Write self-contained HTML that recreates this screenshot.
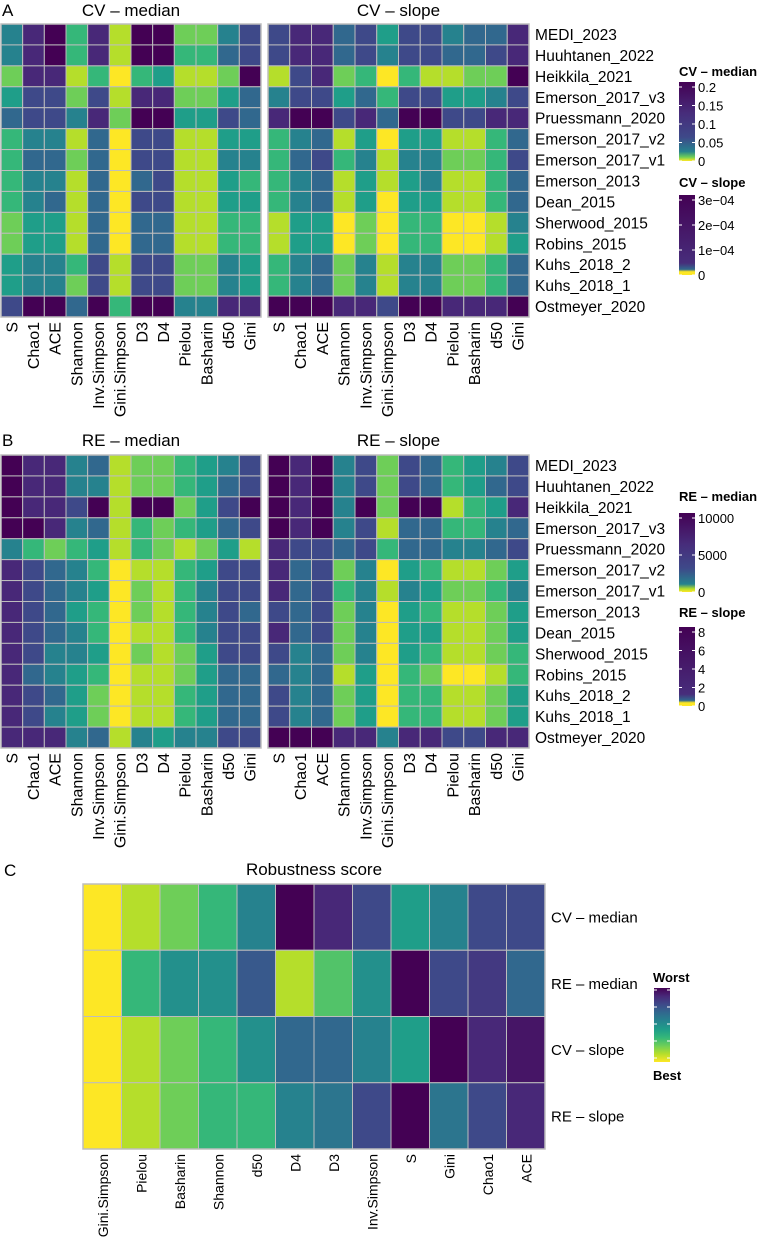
<!DOCTYPE html>
<html><head><meta charset="utf-8"><style>
html,body{margin:0;padding:0;background:#fff}
svg{display:block;font-family:"Liberation Sans",Arial,sans-serif}
</style></head><body>
<svg id="fig" width="760" height="1239" viewBox="0 0 760 1239" xmlns="http://www.w3.org/2000/svg">
<defs>
<linearGradient id="vir" x1="0" y1="1" x2="0" y2="0">
<stop offset="0" stop-color="#fde725"/><stop offset="0.11" stop-color="#b5de2b"/><stop offset="0.22" stop-color="#6ece58"/><stop offset="0.33" stop-color="#35b779"/><stop offset="0.44" stop-color="#1f9e89"/><stop offset="0.56" stop-color="#26828e"/><stop offset="0.67" stop-color="#31688e"/><stop offset="0.78" stop-color="#3e4989"/><stop offset="0.89" stop-color="#482878"/><stop offset="1" stop-color="#440154"/>
</linearGradient>
<linearGradient id="virA" x1="0" y1="1" x2="0" y2="0">
<stop offset="0" stop-color="#fde725"/><stop offset="0.05" stop-color="#6ece58"/><stop offset="0.12" stop-color="#26828e"/><stop offset="0.3" stop-color="#3e4989"/><stop offset="0.6" stop-color="#472d7b"/><stop offset="1" stop-color="#440154"/>
</linearGradient>
<linearGradient id="virB" x1="0" y1="1" x2="0" y2="0">
<stop offset="0" stop-color="#fde725"/><stop offset="0.04" stop-color="#fde725"/><stop offset="0.07" stop-color="#31688e"/><stop offset="0.15" stop-color="#472d7b"/><stop offset="1" stop-color="#440154"/>
</linearGradient>
<linearGradient id="virC" x1="0" y1="1" x2="0" y2="0">
<stop offset="0" stop-color="#fde725"/><stop offset="0.04" stop-color="#b5de2b"/><stop offset="0.1" stop-color="#26828e"/><stop offset="0.3" stop-color="#3e4989"/><stop offset="0.6" stop-color="#472d7b"/><stop offset="1" stop-color="#440154"/>
</linearGradient>
</defs>
</svg>
<script>
// Metrics (columns) and datasets (rows)
const metrics = ["S","Chao1","ACE","Shannon","Inv.Simpson","Gini.Simpson","D3","D4","Pielou","Basharin","d50","Gini"];
const datasets = ["MEDI_2023","Huuhtanen_2022","Heikkila_2021","Emerson_2017_v3","Pruessmann_2020","Emerson_2017_v2","Emerson_2017_v1","Emerson_2013","Dean_2015","Sherwood_2015","Robins_2015","Kuhs_2018_2","Kuhs_2018_1","Ostmeyer_2020"];
// Color-level values (9 = best/yellow, 0 = worst/purple)
const cvMedian = [
[4,1,0,6,1,8,0,0,7,7,4,2],[4,1,0,6,1,8,0,0,6,6,3,2],[7,1,1,8,6,9,6,5,8,8,7,0],[5,2,2,7,2,8,1,1,7,7,5,3],
[3,2,2,4,1,7,0,0,5,5,2,3],[6,4,4,8,3,9,2,2,8,8,5,5],[6,3,3,7,3,9,2,2,8,8,4,4],[6,4,4,8,3,9,3,2,8,8,5,6],
[6,4,3,8,3,9,2,2,8,8,5,5],[7,5,5,8,3,9,3,3,8,8,6,6],[7,5,5,8,3,9,3,3,8,8,6,6],[5,4,4,6,2,8,2,2,7,7,4,5],
[5,4,4,7,2,8,2,2,7,7,4,5],[2,0,0,3,0,6,0,0,4,4,1,1]];
const cvSlope = [
[2,1,1,3,2,5,2,2,4,3,3,1],[2,1,1,3,2,4,2,2,3,3,2,1],[8,2,1,7,6,9,6,8,8,7,7,0],[4,2,2,5,3,6,2,2,5,5,4,2],
[1,0,0,2,1,3,0,0,2,2,1,1],[6,4,3,8,5,9,5,5,8,8,6,3],[6,3,2,6,4,8,4,4,7,7,6,2],[6,4,3,8,5,8,5,4,8,8,6,3],
[6,4,3,8,5,9,5,5,8,8,6,3],[8,5,5,9,7,9,6,6,9,9,8,4],[8,5,5,9,7,9,6,6,9,9,8,5],[6,4,3,7,4,8,4,4,7,7,6,3],
[6,4,3,7,4,8,4,4,7,7,6,3],[0,0,0,1,1,2,0,0,1,1,1,0]];
const reMedian = [
[0,1,1,4,3,8,7,7,6,5,4,2],[0,1,1,4,4,8,7,7,6,5,3,2],[0,1,1,2,0,8,0,0,7,5,2,0],[0,0,1,4,3,8,6,7,6,5,3,2],
[4,6,7,6,5,8,6,7,8,7,5,8],[1,2,3,4,6,9,8,8,6,5,2,2],[1,2,3,4,5,9,7,8,6,4,2,2],[1,2,3,5,6,9,7,8,6,4,2,3],
[1,2,3,4,6,9,8,8,6,4,2,2],[1,2,4,4,5,9,7,8,7,5,2,2],[1,3,4,5,6,9,8,8,7,5,3,3],[1,2,3,5,7,9,8,8,6,5,3,3],
[1,2,4,5,7,9,8,8,6,5,3,3],[1,1,1,4,3,8,4,5,4,4,2,2]];
const reSlope = [
[0,1,0,4,2,7,2,3,6,5,4,2],[0,1,0,4,2,7,2,3,6,5,3,2],[0,1,0,4,0,7,0,0,8,6,5,1],[0,1,0,4,2,8,3,3,6,6,4,3],
[1,2,2,3,2,6,3,3,4,4,3,2],[1,3,2,7,4,9,5,6,8,8,7,5],[1,3,2,6,4,8,4,5,7,7,6,4],[2,3,2,7,4,9,5,6,8,8,7,5],
[1,3,2,7,4,9,5,5,8,8,7,5],[2,4,3,7,4,9,5,6,8,8,7,6],[3,4,3,8,5,9,6,7,9,9,8,6],[2,4,3,7,5,9,6,6,8,8,7,5],
[2,4,3,7,5,9,6,6,8,8,7,5],[0,0,0,1,1,4,1,1,2,2,1,1]];
const scoreMetrics = ["Gini.Simpson","Pielou","Basharin","Shannon","d50","D4","D3","Inv.Simpson","S","Gini","Chao1","ACE"];
const scoreRows = ["CV – median","RE – median","CV – slope","RE – slope"];
const scores = [
[9,8,7,6,4,0,1,2,5,4,2,2],
[9,6,4.5,4.5,2.5,8,6.5,4.5,0,2,1.5,3],
[9,8,7,6,4.5,3,3,4,5,0,1,0.5],
[9,8,7,6,6,4,3.5,2,0,3.5,2,1]];
const cvMedTicks = ["0.2","0.15","0.1","0.05","0"];
const cvSlopeTicks = ["3e−04","2e−04","1e−04","0"];
const reMedTicks = ["10000","5000","0"];
const reSlopeTicks = ["8","6","4","2","0"];

const NS="http://www.w3.org/2000/svg";
const svg=document.getElementById('fig');
const vir=["#440154","#482878","#3e4989","#31688e","#26828e","#1f9e89","#35b779","#6ece58","#b5de2b","#fde725"];
function hex(h){return [1,3,5].map(i=>parseInt(h.substr(i,2),16));}
function color(v){v=Math.max(0,Math.min(9,v));const i=Math.min(8,Math.floor(v)),f=v-i;const a=hex(vir[i]),b=hex(vir[i+1]);return "rgb("+a.map((c,k)=>Math.round(c+(b[k]-c)*f)).join(",")+")";}
function el(t,a,p){const e=document.createElementNS(NS,t);for(const k in a)e.setAttribute(k,a[k]);(p||svg).appendChild(e);return e;}
function txt(x,y,s,size,extra){const e=el('text',Object.assign({x:x,y:y,'font-size':size,fill:'#000'},extra||{}));e.textContent=s;return e;}

function heatmap(name,x0,y0,w,h,cols,rows,data,rowLabels,colLabels,title,titleY){
  const g=el('g',{});
  
  
  const cw=w/cols.length,rh=h/rows.length;
  const xs=j=>x0+j*cw, ys=i=>y0+i*rh;
  for(let i=0;i<rows.length;i++)for(let j=0;j<cols.length;j++){
    const r=el('rect',{x:xs(j),y:ys(i),width:cw,height:rh,fill:color(data[i][j]),stroke:'#bdbdbd','stroke-width':1},g);
    
    
  }
  el('rect',{x:x0,y:y0,width:w,height:h,fill:'none',stroke:'#bdbdbd','stroke-width':1.5},g);
  if(colLabels){for(let j=0;j<cols.length;j++){const cx=xs(j)+cw/2+5.5,ty=y0+h+5;
    const t=txt(cx,ty,cols[j],colLabels,{transform:'rotate(-90 '+cx+' '+ty+')','text-anchor':'end'});
    
    }}
  if(rowLabels){for(let i=0;i<rows.length;i++){const t=txt(x0+w+6,ys(i)+rh/2+5.5,rows[i],rowLabels.size);
    
    }}
  if(title){const t=txt(x0+w/2,titleY,title,17,{'text-anchor':'middle'});
    
    }
}
function legend(name,title,x,ty,y1,y2,ticks,grad){
  const g=el('g',{});
  
  
  const t=txt(x,ty,title,13,{'font-weight':'bold'});g.appendChild(t);
  el('rect',{x:x,y:y1,width:16,height:y2-y1,fill:'url(#'+grad+')'},g);
  ticks.forEach((s,k)=>{const y=y1+5+(y2-y1-5)*k/(ticks.length-1);
    el('line',{x1:x,x2:x+3,y1:y,y2:y,stroke:'#fff','stroke-width':1},g);
    el('line',{x1:x+13,x2:x+16,y1:y,y2:y,stroke:'#fff','stroke-width':1},g);
    const l=txt(x+19,y+5,s,13);g.appendChild(l);});
}
// Panel labels
[["A",2,16],["B",2,446],["C",4,876]].forEach(p=>{const t=txt(p[1],p[2],p[0],17);
  
  });

heatmap('heatmap-cv-median',1,24,260,293,metrics,datasets,cvMedian,null,16,'CV – median',16);
heatmap('heatmap-cv-slope',268,24,261,293,metrics,datasets,cvSlope,{size:15.5},16,'CV – slope',16);
heatmap('heatmap-re-median',1,455,260,293,metrics,datasets,reMedian,null,16,'RE – median',446);
heatmap('heatmap-re-slope',268,455,261,293,metrics,datasets,reSlope,{size:15.5},16,'RE – slope',446);
heatmap('heatmap-robustness',83,884,462,265,scoreMetrics,scoreRows,scores,{size:15},14,'Robustness score',875);

legend('legend-cv-median','CV – median',679,76,82,161,cvMedTicks,'virA');
legend('legend-cv-slope','CV – slope',679,187,195,275,cvSlopeTicks,'virB');
legend('legend-re-median','RE – median',679,501,513,592,reMedTicks,'virC');
legend('legend-re-slope','RE – slope',679,617,627,706,reSlopeTicks,'virB');
// robustness legend
(function(){const g=el('g',{});
  
  
  txt(653,982,'Worst',13,{'font-weight':'bold'});
  el('rect',{x:654,y:988,width:16,height:74,fill:'url(#vir)'},g);
  [0,1,2,3,4].forEach(k=>{const y=990+k*17;el('line',{x1:654,x2:657,y1:y,y2:y,stroke:'#fff'},g);el('line',{x1:667,x2:670,y1:y,y2:y,stroke:'#fff'},g);});
  txt(653,1080,'Best',13,{'font-weight':'bold'});
})();
</script>
</body></html>
